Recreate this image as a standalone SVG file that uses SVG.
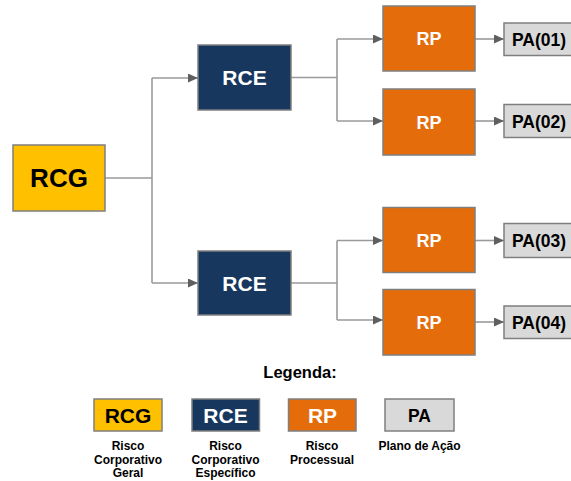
<svg xmlns="http://www.w3.org/2000/svg" width="571" height="481" viewBox="0 0 571 481">
<style>
  text { font-family: "Liberation Sans", Arial, sans-serif; font-weight: bold; text-anchor: middle; }
  .box { stroke: #7f7f7f; stroke-width: 1.5; }
  .rcg { fill: #FFC000; }
  .rce { fill: #17375E; }
  .rp { fill: #E46C0A; }
  .pa { fill: #D9D9D9; }
  .dark { fill: #000000; }
  .light { fill: #FFFFFF; }
  .conn { fill: none; stroke: #9a9a9a; stroke-width: 1.6; }
  .lbl { font-size: 12px; fill: #000000; }
</style>
<defs>
  <marker id="arr" markerUnits="userSpaceOnUse" markerWidth="10" markerHeight="9" refX="10" refY="4.5" orient="auto">
    <path d="M0,0 L10,4.5 L0,9 z" fill="#5f5f5f"/>
  </marker>
</defs>
<rect width="571" height="481" fill="#ffffff"/>
<g id="connectors">
  <path class="conn" d="M105,178 H152"/>
  <path class="conn" d="M152,78 V283"/>
  <path class="conn" d="M152,78 H198" marker-end="url(#arr)"/>
  <path class="conn" d="M152,283 H198" marker-end="url(#arr)"/>
  <path class="conn" d="M291,77.5 H337"/>
  <path class="conn" d="M337,39 V121"/>
  <path class="conn" d="M337,39 H383" marker-end="url(#arr)"/>
  <path class="conn" d="M337,121 H383" marker-end="url(#arr)"/>
  <path class="conn" d="M291,283 H337"/>
  <path class="conn" d="M337,240.5 V320"/>
  <path class="conn" d="M337,240.5 H383" marker-end="url(#arr)"/>
  <path class="conn" d="M337,320 H383" marker-end="url(#arr)"/>
  <path class="conn" d="M475,39 H504" marker-end="url(#arr)"/>
  <path class="conn" d="M475,121 H504" marker-end="url(#arr)"/>
  <path class="conn" d="M475,240.5 H504" marker-end="url(#arr)"/>
  <path class="conn" d="M475,322 H504" marker-end="url(#arr)"/>
</g>
<g id="rcg">
  <rect class="box rcg" x="13" y="145" width="92" height="66"/>
  <text class="dark" x="59" y="187" font-size="26">RCG</text>
</g>
<g id="rce1">
  <rect class="box rce" x="198" y="45" width="93" height="65"/>
  <text class="light" x="244.5" y="85" font-size="21">RCE</text>
</g>
<g id="rce2">
  <rect class="box rce" x="198" y="251" width="93" height="64"/>
  <text class="light" x="244.5" y="290.5" font-size="21">RCE</text>
</g>
<g id="rp1">
  <rect class="box rp" x="383" y="6" width="92" height="65"/>
  <text class="light" x="429" y="45" font-size="18">RP</text>
</g>
<g id="rp2">
  <rect class="box rp" x="383" y="89" width="92" height="66"/>
  <text class="light" x="429" y="128.5" font-size="18">RP</text>
</g>
<g id="rp3">
  <rect class="box rp" x="383" y="207.5" width="92" height="65"/>
  <text class="light" x="429" y="246.5" font-size="18">RP</text>
</g>
<g id="rp4">
  <rect class="box rp" x="383" y="289.5" width="92" height="65.5"/>
  <text class="light" x="429" y="328.5" font-size="18">RP</text>
</g>
<g id="pa1">
  <rect class="box pa" x="504" y="23" width="72" height="32.5"/>
  <text class="dark" x="512" y="45.5" font-size="17.5" style="text-anchor:start">PA(01)</text>
</g>
<g id="pa2">
  <rect class="box pa" x="504" y="104.5" width="72" height="33"/>
  <text class="dark" x="512" y="127.5" font-size="17.5" style="text-anchor:start">PA(02)</text>
</g>
<g id="pa3">
  <rect class="box pa" x="504" y="223.5" width="72" height="34"/>
  <text class="dark" x="512" y="247" font-size="17.5" style="text-anchor:start">PA(03)</text>
</g>
<g id="pa4">
  <rect class="box pa" x="504" y="306" width="72" height="32.5"/>
  <text class="dark" x="512" y="328.5" font-size="17.5" style="text-anchor:start">PA(04)</text>
</g>
<g id="legend">
  <text x="300" y="378" font-size="16.5" fill="#000000">Legenda:</text>
  <g id="leg-rcg">
    <rect class="box rcg" x="94" y="399" width="68" height="32"/>
    <text class="dark" x="128" y="422.5" font-size="21">RCG</text>
    <text class="lbl" x="128" y="449.5">Risco</text>
    <text class="lbl" x="128" y="463.5">Corporativo</text>
    <text class="lbl" x="128" y="477">Geral</text>
  </g>
  <g id="leg-rce">
    <rect class="box rce" x="192" y="399" width="67.5" height="32"/>
    <text class="light" x="225.5" y="422.5" font-size="21">RCE</text>
    <text class="lbl" x="225.5" y="449.5">Risco</text>
    <text class="lbl" x="225.5" y="463.5">Corporativo</text>
    <text class="lbl" x="225.5" y="477">Específico</text>
  </g>
  <g id="leg-rp">
    <rect class="box rp" x="288.5" y="399" width="67.5" height="32"/>
    <text class="light" x="322.5" y="422.5" font-size="21">RP</text>
    <text class="lbl" x="322" y="449.5">Risco</text>
    <text class="lbl" x="322" y="463.5">Processual</text>
  </g>
  <g id="leg-pa">
    <rect class="box pa" x="385" y="399" width="69" height="32"/>
    <text class="dark" x="419.5" y="421.5" font-size="17.5">PA</text>
    <text class="lbl" x="419.5" y="449.5">Plano de Ação</text>
  </g>
</g>
</svg>
